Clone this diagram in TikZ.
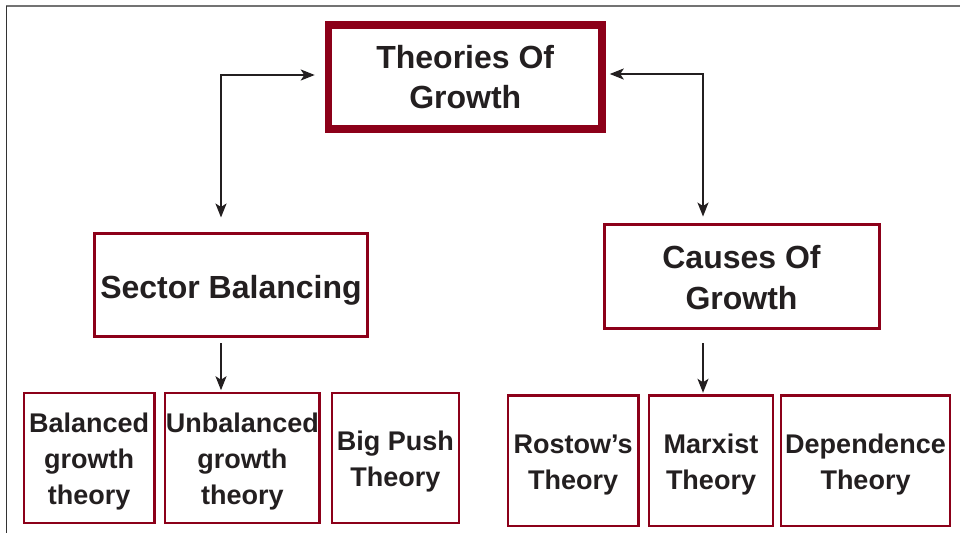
\documentclass[tikz,border=0pt]{standalone}
\usepackage{fontspec}
\setmainfont{Liberation Sans}
\usetikzlibrary{arrows.meta}
\definecolor{boxred}{RGB}{140,0,25}
\definecolor{ink}{RGB}{35,31,32}
\tikzset{
  box/.style={draw=boxred, rectangle, inner sep=0pt},
  bigbox/.style={box, line width=7.5pt},
  midbox/.style={box, line width=3pt},
  smallbox/.style={box, line width=2.5pt, minimum height=130pt},
  lbl/.style={inner sep=0pt, align=center, text=ink},
  biglbl/.style={lbl, font=\bfseries\fontsize{32}{40}\selectfont},
  smalllbl/.style={lbl, font=\bfseries\fontsize{27}{36}\selectfont},
  conn/.style={draw=ink, line width=1.6pt, line join=miter},
  tip/.style={-{Stealth[length=14pt,width=11pt,inset=3.5pt]}},
  bitip/.style={{Stealth[length=14pt,width=11pt,inset=3.5pt]}-{Stealth[length=14pt,width=11pt,inset=3.5pt]}}
}
\begin{document}
\begin{tikzpicture}[x=1pt,y=-1pt]
\useasboundingbox (0,0) rectangle (960,533);
% frame lines
\draw[line width=1.5pt, draw=black!55] (6,6) -- (960,6);
\draw[line width=1.5pt, draw=black!80] (6.3,6) -- (6.3,533);

% main boxes
\node[bigbox, minimum width=273.5pt, minimum height=104pt] (top) at (465.25,77) {};
\node[midbox, minimum width=273pt, minimum height=103pt] (sb) at (231,285) {};
\node[midbox, minimum width=275pt, minimum height=104.5pt] (cg) at (741.5,276.3) {};
\node[biglbl] (topT) at (top.center) {Theories Of\\Growth};
\node[biglbl] (sbT) at ([yshift=-5pt]sb.center) {Sector Balancing};
\node[biglbl, font=\bfseries\fontsize{32}{41}\selectfont] (cgT) at ([yshift=-1.5pt]cg.center) {Causes Of\\Growth};

% bottom left
\node[smallbox, minimum width=130.5pt] (bg) at (89.2,458) {};
\node[smallbox, minimum width=154.3pt] (ub) at (242.3,458) {};
\node[smallbox, minimum width=126.8pt] (bp) at (395.4,458) {};
\node[smalllbl] (bgT) at ([yshift=-4pt]bg.center) {Balanced\\growth\\theory};
\node[smalllbl] (ubT) at ([yshift=-4pt]ub.center) {Unbalanced\\growth\\theory};
\node[smalllbl] (bpT) at ([yshift=-4pt]bp.center) {Big Push\\Theory};

% bottom right
\node[smallbox, minimum width=130.5pt, minimum height=130.5pt] (ro) at (573.2,460.8) {};
\node[smallbox, minimum width=123.6pt, minimum height=130.5pt] (mx) at (711,460.8) {};
\node[smallbox, minimum width=168.6pt, minimum height=130.5pt] (dp) at (865.5,460.8) {};
\node[smalllbl] (roT) at ([yshift=-4pt]ro.center) {Rostow’s\\Theory};
\node[smalllbl] (mxT) at ([yshift=-4pt]mx.center) {Marxist\\Theory};
\node[smalllbl] (dpT) at ([yshift=-4pt]dp.center) {Dependence\\Theory};

% bend coordinates
\coordinate (lc) at (221,75);
\coordinate (rc) at (703,74);

% connectors
\draw[conn, bitip, shorten <=10pt, shorten >=14.5pt] (top.west |- lc) -- (lc) -- (lc |- sb.north);
\draw[conn, bitip, shorten <=4pt, shorten >=6pt] (top.east |- rc) -- (rc) -- (rc |- cg.north);
\draw[conn, tip, shorten <=5pt, shorten >=1.5pt] (lc |- sb.south) -- (lc |- ub.north);
\draw[conn, tip, shorten <=13pt, shorten >=1.5pt] (rc |- cg.south) -- (rc |- mx.north);
\end{tikzpicture}
\end{document}
